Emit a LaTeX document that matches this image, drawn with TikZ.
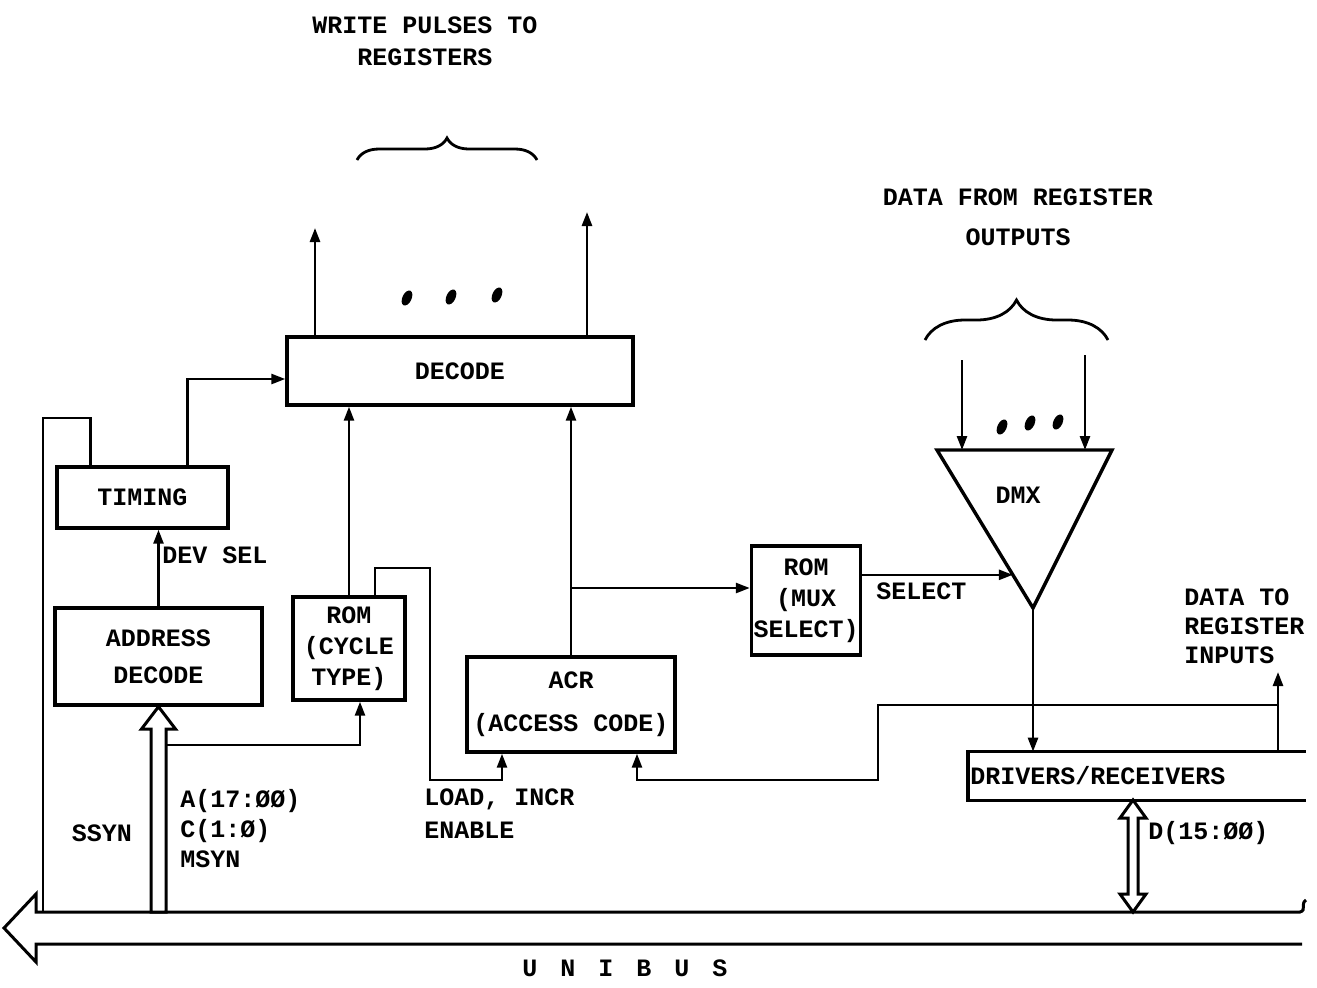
\documentclass[tikz,border=0pt]{standalone}
\usepackage{fontspec}
\newfontfamily\typew{Liberation Mono}
\usetikzlibrary{arrows.meta, calc, decorations.pathreplacing}

\tikzset{
    blk/.style={draw, line width=1.7pt, inner sep=1pt, align=center},
    sig/.style={line width=1.3pt, -{Triangle[length=7pt, width=5pt]}},
    wire/.style={line width=1.3pt},
    hollow/.style={line width=1.5pt, fill=white, line join=miter},
    lbl/.style={inner sep=0pt, align=left},
    grp/.style={line width=1.4pt, decorate},
}

\begin{document}
\begin{tikzpicture}[x=0.5pt, y=-0.5pt, font={\typew\bfseries\fontsize{12.5}{15.5}\selectfont}]
        \useasboundingbox (0,0) rectangle (1317,987);
        \def\gap{\hspace{11.5pt}}

        % blocks
        \node[blk, minimum width=173pt, minimum height=34pt] (decode) at (460,371) {DECODE};
        \node[blk, minimum width=85.5pt, minimum height=30.5pt] (timing) at (142.5,497.5) {TIMING};
        \node[blk, minimum width=103.5pt, minimum height=48.5pt] (addr) at (158.5,656.5) {ADDRESS\\[3pt]DECODE};
        \node[blk, minimum width=56pt, minimum height=51.5pt] (romc) at (349,648.5) {ROM\\(CYCLE\\TYPE)};
        \node[blk, minimum width=104pt, minimum height=47.5pt] (acr) at (571,704.5) {ACR\\[6pt](ACCESS CODE)};
        \node[blk, minimum width=54pt, minimum height=54.5pt] (romm) at (806,600.5) {ROM\\(MUX\\SELECT)};
        \node[inner sep=1pt, text width=166.5pt, minimum height=24pt, align=left, anchor=west] (drv) at (968,776) {DRIVERS/RECEIVERS};
        \draw[line width=1.7pt] (drv.north east) -- (drv.north west) -- (drv.south west) -- (drv.south east);

        % demultiplexer
        \coordinate (dmxl) at (937,450);
        \coordinate (dmxr) at (1112,450);
        \coordinate (dmxa) at (1033,608);
        \draw[line width=1.7pt, line join=miter] (dmxl) -- (dmxr) -- (dmxa) -- cycle;
        \node (dmx) at (1018,495) {DMX};

        % top labels and braces
        \node[align=center, font={\typew\bfseries\fontsize{12.5}{16}\selectfont}] (wrlbl) at (425,41) {WRITE PULSES TO\\REGISTERS};
        \draw[grp, decoration={brace, amplitude=11pt}] (357,160) -- (537,160);
        \node[align=center, font={\typew\bfseries\fontsize{12.5}{20}\selectfont}] (rdlbl) at (1018,217) {DATA FROM REGISTER\\OUTPUTS};
        \draw[grp, decoration={brace, amplitude=20pt}] (925,340) -- (1108,340);

        % write pulses out of decode
        \coordinate (wp1) at (315,228);
        \coordinate (wpn) at (587,212);
        \draw[sig] (wp1 |- decode.north) -- (wp1);
        \draw[sig] (wpn |- decode.north) -- (wpn);
        \foreach \px/\py in {407/298, 451/297, 497/295, 1002/427, 1030/423, 1058/422}
            \fill[shift={(\px,\py)}, rotate=-25] (0,0) ellipse (2.3pt and 4pt);

        % register outputs into dmx
        \coordinate (din1) at (962,360);
        \coordinate (din2) at (1085,355);
        \draw[sig] (din1) -- (din1 |- dmxl);
        \draw[sig] (din2) -- (din2 |- dmxr);

        % control paths
        \draw[sig] ([xshift=22.5pt]timing.north) |- ([yshift=-4pt]decode.west);
        \draw[wire] ([xshift=-26pt]timing.north) |- (43,418) -- (43,912);
        \draw[sig] (addr.north) -- (addr.north |- timing.south);
        \node[lbl, anchor=west] (devsel) at (162,555) {DEV SEL};
        \draw[sig] (romc.north) -- (romc.north |- decode.south);
        \coordinate (ldx) at (430,568);
        \coordinate (ldin) at (502,780);
        \draw[sig] ([xshift=13pt]romc.north) |- (ldx) |- (ldin) -- (ldin |- acr.south);
        \node[lbl, anchor=north west] (ldlbl) at (424,788) {LOAD, INCR\\[1pt]ENABLE};
        \draw[sig] (acr.north) -- (acr.north |- decode.south);
        \coordinate (tap) at (571,588);
        \draw[sig] (tap) -- (tap -| romm.west);
        \coordinate (sel) at ($(dmxl)!0.79!(dmxa)$);
        \draw[sig] (sel -| romm.east) -- (sel);
        \node[lbl, anchor=north west] (sellbl) at (876,582) {SELECT};
        \draw[sig] (dmxa) -- (dmxa |- drv.north);

        % data to register inputs
        \coordinate (dtr) at (1278,672);
        \coordinate (dtrj) at (1278,705);
        \coordinate (step) at (878,780);
        \draw[sig] (dtr |- drv.north) -- (dtr);
        \draw[sig] (dtrj) -| (step) -| ([xshift=33pt]acr.south);
        \node[lbl, anchor=north west, font={\typew\bfseries\fontsize{12.5}{14.5}\selectfont}] (dtrlbl) at (1184,588) {DATA TO\\REGISTER\\INPUTS};

        % unibus
        \draw[hollow] (1306,900) .. controls (1300,904) and (1307,910) .. (1300,912) -- (36,912) -- (36,894) -- (4,928) -- (36,962) -- (36,944) -- (1302,944);
        \node (unibus) at (625,968) {U\gap N\gap I\gap B\gap U\gap S};
        \node (ssyn) at (102,833) {SSYN};

        % address bus
        \draw[hollow] (addr.south) -- (175.5,729) -- (166,729) -- (166,912) -- (151,912) -- (151,729) -- (141.5,729) -- cycle;
        \coordinate (abr) at (166,745);
        \draw[sig] (abr) -| ([xshift=5.5pt]romc.south);
        \node[lbl, anchor=north west, font={\typew\bfseries\fontsize{12.5}{15}\selectfont}] (alines) at (180,789) {A(17:ØØ)\\C(1:Ø)\\MSYN};

        % data bus
        \draw[hollow] (1133,800) -- (1146,818) -- (1138,818) -- (1138,894) -- (1146,894) -- (1133,912) -- (1120,894) -- (1128,894) -- (1128,818) -- (1120,818) -- cycle;
        \node[lbl, anchor=west] (dlbl) at (1148,833) {D(15:ØØ)};
\end{tikzpicture}
\end{document}
